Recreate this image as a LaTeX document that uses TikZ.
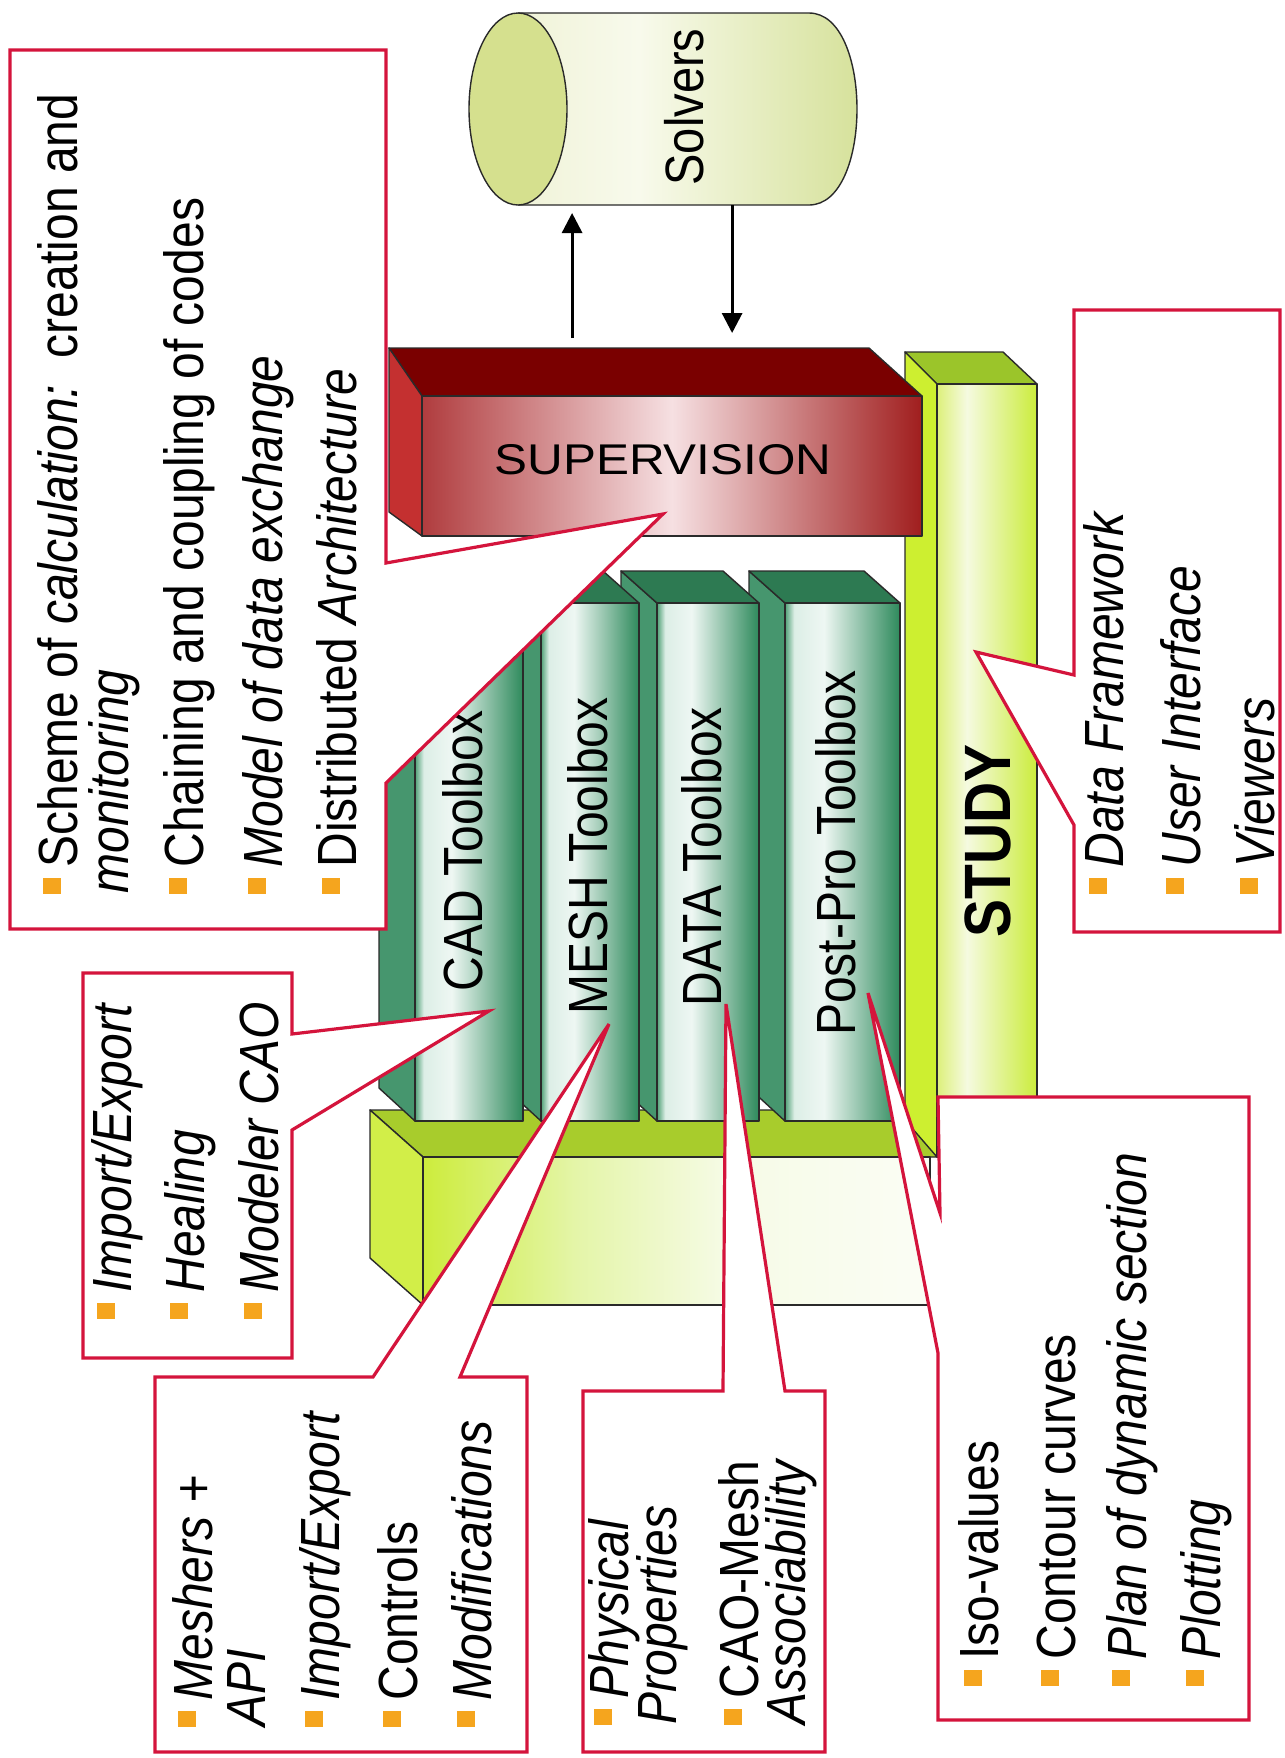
\documentclass[tikz,border=0pt]{standalone}
\usepackage{fontspec}
\setmainfont{Liberation Sans}
\usetikzlibrary{arrows.meta}
\definecolor{calred}{RGB}{212,20,60}
\definecolor{bulor}{RGB}{245,165,30}
\definecolor{edgec}{RGB}{42,42,42}
\definecolor{supTop}{RGB}{122,0,0}
\definecolor{supSide}{RGB}{196,48,48}
\definecolor{supL}{RGB}{176,60,62}
\definecolor{supM}{RGB}{246,224,226}
\definecolor{supR}{RGB}{160,30,30}
\definecolor{bookSide}{RGB}{70,150,110}
\definecolor{bookTop}{RGB}{45,122,82}
\definecolor{bookA}{RGB}{80,160,118}
\definecolor{bookB}{RGB}{220,238,230}
\definecolor{bookC}{RGB}{238,247,243}
\definecolor{bookD}{RGB}{46,138,92}
\definecolor{baseTop}{RGB}{168,204,44}
\definecolor{baseSide}{RGB}{210,238,72}
\definecolor{baseA}{RGB}{205,236,60}
\definecolor{baseB}{RGB}{228,245,168}
\definecolor{baseC}{RGB}{246,251,230}
\definecolor{baseD}{RGB}{251,253,245}
\definecolor{studyTop}{RGB}{155,197,42}
\definecolor{studySide}{RGB}{205,239,48}
\definecolor{studyA}{RGB}{221,240,122}
\definecolor{studyB}{RGB}{245,250,224}
\definecolor{studyC}{RGB}{203,236,60}
\definecolor{cylEnd}{RGB}{213,224,142}
\definecolor{cylA}{RGB}{240,243,216}
\definecolor{cylB}{RGB}{248,250,236}
\definecolor{cylC}{RGB}{212,224,150}
\pgfdeclarehorizontalshading{supshade}{100bp}{color(0bp)=(supL); color(25bp)=(supL); color(50bp)=(supM); color(75bp)=(supR); color(100bp)=(supR)}
\pgfdeclarehorizontalshading{bookshade}{100bp}{color(0bp)=(bookA); color(25bp)=(bookA); color(29bp)=(bookB); color(42bp)=(bookC); color(75bp)=(bookD); color(100bp)=(bookD)}
\pgfdeclarehorizontalshading{baseshade}{100bp}{color(0bp)=(baseA); color(25bp)=(baseA); color(40bp)=(baseB); color(55bp)=(baseC); color(75bp)=(baseD); color(100bp)=(baseD)}
\pgfdeclarehorizontalshading{studyshade}{100bp}{color(0bp)=(studyA); color(25bp)=(studyA); color(40bp)=(studyB); color(75bp)=(studyC); color(100bp)=(studyC)}
\pgfdeclarehorizontalshading{cylshade}{100bp}{color(0bp)=(cylA); color(25bp)=(cylA); color(42bp)=(cylB); color(75bp)=(cylC); color(100bp)=(cylC)}
\newcommand\bul{\textcolor{bulor}{\rule[6.8pt]{8pt}{8.2pt}}\hspace{5pt}}
\newcommand\drawbook[2]{%
  \filldraw[fill=bookSide, edge3d] (#1-36,571) -- (#1,603) -- (#1,1121) -- (#1-36,1088) -- cycle;
  \filldraw[fill=bookTop, edge3d] (#1-36,571) -- (#2-36,571) -- (#2,603) -- (#1,603) -- cycle;
  \shade[shading=bookshade] (#1,603) rectangle (#2,1121);
  \draw[edge3d] (#1,603) rectangle (#2,1121);}
\tikzset{
  edge3d/.style={draw=edgec, line width=0.7pt, line join=round},
  callout/.style={draw=calred, line width=1.6pt, fill=white, line join=miter},
  item/.style={rotate=90, anchor=base west, inner sep=0pt, font=\fontsize{24}{28}\selectfont},
  booklabel/.style={rotate=90, inner sep=0pt, font=\fontsize{24}{28}\selectfont},
  arr/.style={-{Triangle[length=10pt,width=10pt]}, line width=1.5pt},
}
\begin{document}
\begin{tikzpicture}[x=0.43478pt, y=-0.5pt]
\begin{scope}[xscale=1.15, transform shape]
\useasboundingbox (0,0) rectangle (1285,1758);
\fill[white] (0,0) rectangle (1285,1758);

% base platform
\filldraw[fill=baseTop, edge3d] (370,1110) -- (905,1110) -- (937,1157) -- (423,1157) -- cycle;
\filldraw[fill=baseSide, edge3d] (370,1110) -- (423,1157) -- (423,1305) -- (370,1258) -- cycle;
\shade[shading=baseshade] (423,1157) rectangle (930,1305);
\draw[edge3d] (423,1157) rectangle (930,1305);

% STUDY column
\filldraw[fill=studyTop, edge3d] (905,352) -- (1003,352) -- (1037,384) -- (937,384) -- cycle;
\filldraw[fill=studySide, edge3d] (905,352) -- (937,384) -- (937,1157) -- (905,1120) -- cycle;
\shade[shading=studyshade] (937,384) rectangle (1037,1157);
\draw[edge3d] (937,384) rectangle (1037,1157);

% toolboxes (right to left)
\drawbook{785}{900}
\drawbook{657}{759}
\drawbook{541}{639}
\drawbook{415}{523}

% supervision
\filldraw[fill=supTop, edge3d] (389,348) -- (869,348) -- (922,396) -- (422,396) -- cycle;
\filldraw[fill=supSide, edge3d] (389,348) -- (422,396) -- (422,536) -- (389,512) -- cycle;
\shade[shading=supshade] (422,396) rectangle (922,536);
\draw[edge3d] (422,396) rectangle (922,536);
\node[inner sep=0pt, font=\fontsize{21.5}{24}\selectfont] (sup) at (663,460) {SUPERVISION};

% solvers cylinder
\shade[shading=cylshade] (518,13) -- (809,13) .. controls (873,13) and (873,205) .. (809,205) -- (518,205) -- cycle;
\draw[edge3d] (518,13) -- (809,13) .. controls (873,13) and (873,205) .. (809,205) -- (518,205);
\filldraw[fill=cylEnd, edge3d] (518,109) ellipse [x radius=49, y radius=96];
\node[booklabel, font=\fontsize{23.5}{26}\selectfont] (solvers) at (684,107) {Solvers};

% arrows
\coordinate (cylA) at (572,213);
\coordinate (supA) at (572,338);
\coordinate (cylB) at (732,205);
\coordinate (supB) at (732,333);
\draw[arr] (supA) -- (cylA);
\draw[arr] (cylB) -- (supB);

% labels
\node[booklabel] (cad) at (463,851) {CAD Toolbox};
\node[booklabel] (mesh) at (588,856) {MESH Toolbox};
\node[booklabel] (data) at (702,857) {DATA Toolbox};
\node[booklabel] (post) at (836,853) {Post-Pro Toolbox};
\node[booklabel, font=\bfseries\fontsize{28.5}{30}\selectfont] (study) at (988,841) {STUDY};

% callouts
\path[callout] (10,50) -- (386,50) -- (386,563) -- (663,514) -- (386,783) -- (386,929) -- (10,929) -- cycle;
\path[callout] (83,973) -- (292,973) -- (292,1034) -- (489,1011) -- (292,1130) -- (292,1358) -- (83,1358) -- cycle;
\path[callout] (155,1377) -- (373,1377) -- (609,1024) -- (460,1377) -- (527,1377) -- (527,1752) -- (155,1752) -- cycle;
\path[callout] (583,1391) -- (723,1391) -- (726,1004) -- (785,1391) -- (825,1391) -- (825,1752) -- (583,1752) -- cycle;
\path[callout] (938,1097) -- (1249,1097) -- (1249,1720) -- (938,1720) -- (938,1353) -- (868,993) -- (940,1213) -- cycle;
\path[callout] (1074,310) -- (1280,310) -- (1280,932) -- (1074,932) -- (1074,825) -- (976,652) -- (1074,675) -- cycle;

% supervision callout text
\node[item] (s1) at (77,894) {\bul Scheme of \textit{calculation:}\ \ creation and};
\node[item] (s1b) at (128,894) {\textit{monitoring}};
\node[item] (s2) at (203,894) {\bul Chaining and coupling of codes};
\node[item] (s3) at (282,894) {\bul \textit{Model of data exchange}};
\node[item] (s4) at (356,894) {\bul Distributed \textit{Architecture}};

% study callout text
\node[item] (t1) at (1123,894) {\bul \textit{Data Framework}};
\node[item] (t2) at (1200,894) {\bul \textit{User Interface}};
\node[item] (t3) at (1274,894) {\bul \textit{Viewers}};

% CAD callout text
\node[item] (c1) at (131,1319) {\bul \textit{Import/Export}};
\node[item] (c2) at (204,1319) {\bul \textit{Healing}};
\node[item] (c3) at (278,1319) {\bul \textit{Modeler CAO}};

% MESH callout text
\node[item] (m1) at (212,1727) {\bul \textit{Meshers +}};
\node[item] (m1b) at (265,1727) {\textit{API}};
\node[item] (m2) at (339,1727) {\bul \textit{Import/Export}};
\node[item] (m3) at (417,1727) {\bul Controls};
\node[item] (m4) at (491,1727) {\bul \textit{Modifications}};

% DATA callout text
\node[item] (d1) at (628,1725) {\bul \textit{Physical}};
\node[item] (d1b) at (676,1725) {\textit{Properties}};
\node[item] (d2) at (758,1725) {\bul CAO-Mesh};
\node[item] (d2b) at (805,1725) {\textit{Associability}};

% Post-Pro callout text
\node[item] (p1) at (998,1686) {\bul Iso-values};
\node[item] (p2) at (1075,1686) {\bul Contour curves};
\node[item] (p3) at (1146,1686) {\bul \textit{Plan of dynamic section}};
\node[item] (p4) at (1220,1686) {\bul \textit{Plotting}};
\end{scope}
\end{tikzpicture}
\end{document}
